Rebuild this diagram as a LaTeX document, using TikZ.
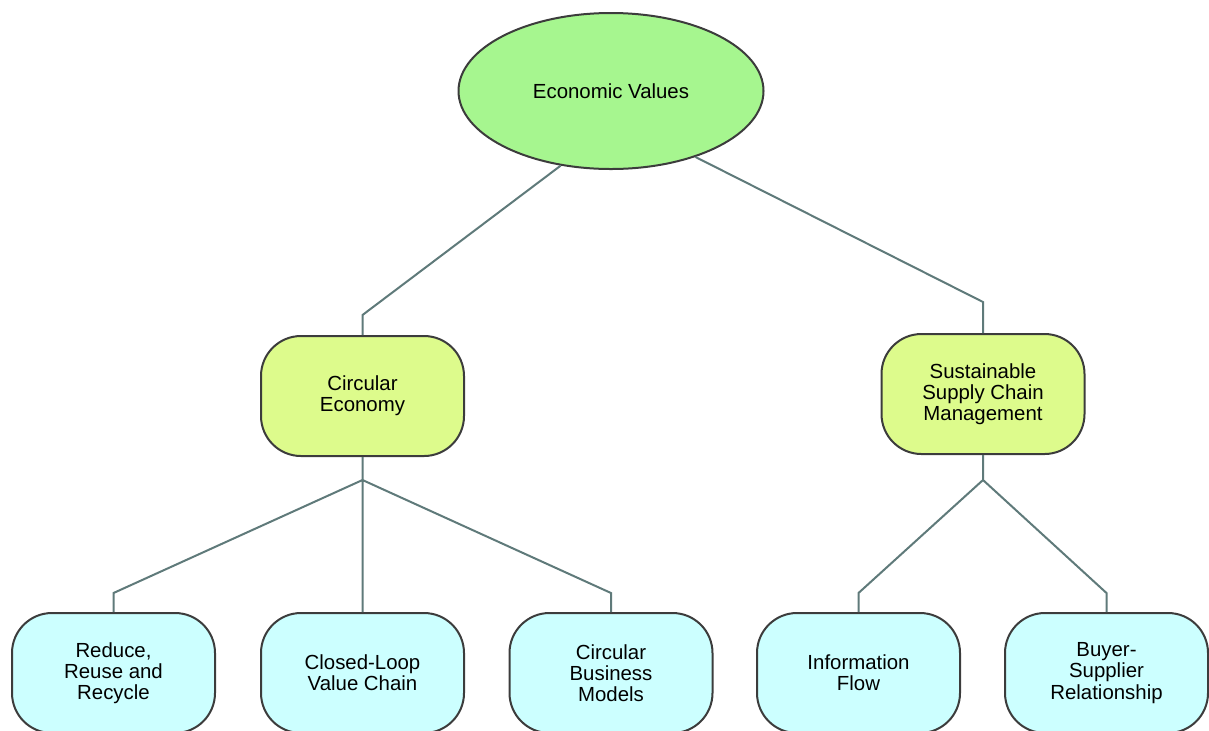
\documentclass[tikz,border=0pt]{standalone}
\usepackage{fontspec}
\setmainfont{Liberation Sans}
\usepackage{xcolor}
\usetikzlibrary{shapes.geometric, positioning}

\definecolor{rootgreen}{RGB}{166,246,143}
\definecolor{midyellow}{RGB}{221,251,140}
\definecolor{leafcyan}{RGB}{204,255,255}
\definecolor{linkgray}{RGB}{95,122,122}
\definecolor{edgegray}{RGB}{60,60,60}

\tikzset{
    topic/.style={draw=edgegray, line width=1pt, align=center,
        font=\fontsize{10.2}{10.6}\selectfont},
    rootnode/.style={topic, ellipse, fill=rootgreen, minimum width=152.5pt, minimum height=78pt, inner sep=0pt},
    midbox/.style={topic, rectangle, rounded corners=20pt, fill=midyellow, minimum width=101.5pt, minimum height=60pt},
    leafbox/.style={topic, rectangle, rounded corners=20pt, fill=leafcyan, minimum width=101.5pt, minimum height=60pt},
    link/.style={draw=linkgray, line width=1pt}
}

\begin{document}
\begin{tikzpicture}[x=0.5pt, y=-0.5pt]
        \useasboundingbox (0,0) rectangle (1209,730);

        \node[rootnode] (ev) at (611,91) {Economic Values};

        \node[midbox] (ce)   at (362.5,396) {Circular\\Economy};
        \node[midbox] (sscm) at (983,394)   {Sustainable\\Supply Chain\\Management};

        \node[leafbox] (rrr)  at (113.5,673)  {Reduce,\\Reuse and\\Recycle};
        \node[leafbox] (clvc) at (362.5,673)  {Closed-Loop\\Value Chain};
        \node[leafbox] (cbm)  at (611,673)    {Circular\\Business\\Models};
        \node[leafbox] (inf)  at (858.5,673)  {Information\\Flow};
        \node[leafbox] (bsr)  at (1106.5,673) {Buyer-\\Supplier\\Relationship};

        % bend and branch points
        \coordinate (ceb)   at (362.5,315);
        \coordinate (sscmb) at (983,302);
        \coordinate (cej)   at (362.5,480);
        \coordinate (sscmj) at (983,480);
        \coordinate (rrrb)  at (113.5,593);
        \coordinate (cbmb)  at (611,593);
        \coordinate (infb)  at (858.5,593);
        \coordinate (bsrb)  at (1106.5,593);

        \path[link]
        (ev.236) -- (ceb) -- (ce.north)
        (ev.322) -- (sscmb) -- (sscm.north)
        (ce.south) -- (cej)
        (cej) -- (rrrb) -- (rrr.north)
        (cej) -- (clvc.north)
        (cej) -- (cbmb) -- (cbm.north)
        (sscm.south) -- (sscmj)
        (sscmj) -- (infb) -- (inf.north)
        (sscmj) -- (bsrb) -- (bsr.north);

    \end{tikzpicture}
\end{document}
